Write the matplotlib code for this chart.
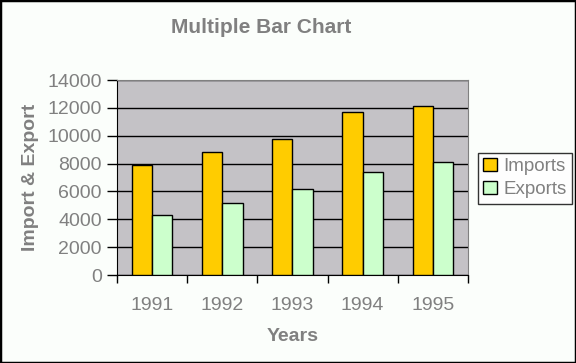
#!/usr/bin/env python3
import numpy as np
import matplotlib
matplotlib.use('Agg')
import matplotlib.pyplot as plt

years = ['1991', '1992', '1993', '1994', '1995']
imports = [7900, 8800, 9800, 11700, 12100]
exports = [4300, 5200, 6200, 7400, 8100]

plt.rcParams['font.family'] = ['Liberation Sans', 'DejaVu Sans']
text_grey = '#808080'

fig = plt.figure(figsize=(5.76, 3.63), dpi=100, facecolor='#fbfefb')
ax = fig.add_axes([0.203, 0.2424, 0.6095, 0.5372])
ax.set_facecolor('#c4c2c6')

x = np.arange(len(years))
w = 0.29
ax.bar(x - w / 2, imports, w, color='#ffcc00', edgecolor='black', linewidth=1,
       label='Imports', zorder=3)
ax.bar(x + w / 2, exports, w, color='#ccffcc', edgecolor='black', linewidth=1,
       label='Exports', zorder=3)

ax.set_xlim(-0.5, len(years) - 0.5)
ax.set_ylim(0, 14000)
ax.set_yticks(np.arange(0, 14001, 2000))
ax.yaxis.grid(True, color='black', linewidth=1, zorder=1)
ax.set_axisbelow(True)

# ticks at category borders, labels at centres
ax.set_xticks(np.arange(-0.5, len(years)), minor=False)
ax.set_xticklabels([])
ax.set_xticks(x, minor=True)
ax.set_xticklabels(years, minor=True)
ax.tick_params(axis='x', which='major', length=6, width=1, direction='out')
ax.tick_params(axis='x', which='minor', length=0, pad=16, labelsize=14,
               labelcolor=text_grey)
ax.tick_params(axis='y', length=7, width=1, direction='out', pad=4,
               labelsize=14, labelcolor=text_grey)

for side in ['left', 'bottom']:
    ax.spines[side].set_color('black')
for side in ['top', 'right']:
    ax.spines[side].set_color(text_grey)

ax.set_xlabel('Years', fontsize=14, fontweight='bold', color=text_grey, labelpad=10)
ax.set_ylabel('Import & Export', fontsize=14, fontweight='bold', color=text_grey,
              labelpad=6)
fig.text(0.454, 0.925, 'Multiple Bar Chart', ha='center', va='center',
         fontsize=15, fontweight='bold', color=text_grey)

leg = ax.legend(loc='center left', bbox_to_anchor=(1.028, 0.497), frameon=True,
                fancybox=False, fontsize=13.5, handlelength=0.7, handleheight=0.7,
                handletextpad=0.35, borderpad=0.3, labelspacing=0.3,
                borderaxespad=0)
leg.get_frame().set_edgecolor('black')
leg.get_frame().set_facecolor('white')
leg.get_frame().set_linewidth(1)
for t in leg.get_texts():
    t.set_color(text_grey)

# black outer border
fig.patches.append(plt.Rectangle((0, 0), 1, 1, transform=fig.transFigure,
                                 fill=False, edgecolor='black', linewidth=2.5))

fig.savefig('out.png', dpi=100, facecolor=fig.get_facecolor())
